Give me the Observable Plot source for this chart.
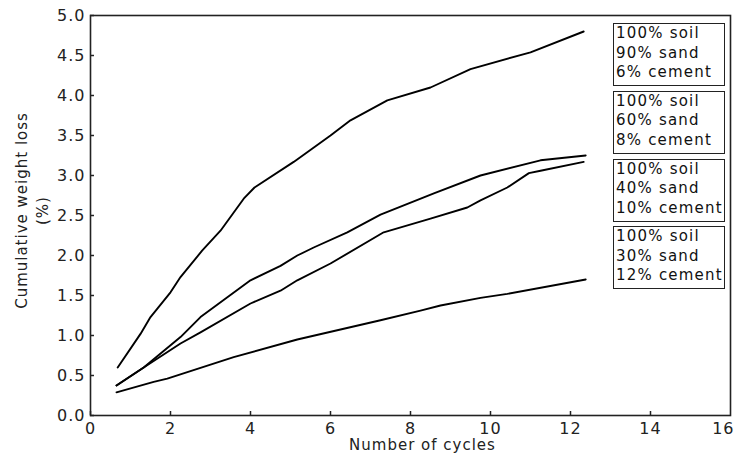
<!DOCTYPE html>
<html>
<head>
<meta charset="utf-8">
<script src="https://cdn.jsdelivr.net/npm/d3@7"></script>
<script src="https://cdn.jsdelivr.net/npm/@observablehq/plot@0.6"></script>
<style>
  html, body { margin: 0; padding: 0; background: white; }
  #wrap { position: relative; width: 735px; height: 455px; }
  .lg { position: absolute; left: 613px; width: 108px; height: 61px; border: 1.5px solid #222;
        font-family: "DejaVu Sans", sans-serif; font-size: 15px; line-height: 19.5px;
        letter-spacing: 1.2px; color: #111; padding: 0 0 0 2px; box-sizing: content-box; white-space: nowrap; overflow: visible; }
</style>
</head>
<body>
<div id="wrap"></div>
<script>
// Series labels (legend boxes, top to bottom)
const seriesNames = [
  "100% soil\n90% sand\n6% cement",
  "100% soil\n60% sand\n8% cement",
  "100% soil\n40% sand\n10% cement",
  "100% soil\n30% sand\n12% cement"
];

// 90% sand, 6% cement
const s1x = [0.68, 1.25, 1.5, 2.0, 2.25, 2.79, 3.25, 3.83, 4.1, 5.08, 6.0, 6.5, 7.42, 8.5, 9.5, 11.0, 12.33];
const s1y = [0.60, 1.02, 1.23, 1.54, 1.73, 2.06, 2.31, 2.71, 2.85, 3.17, 3.50, 3.69, 3.94, 4.10, 4.33, 4.54, 4.80];
// 60% sand, 8% cement
const s2x = [0.65, 1.33, 2.25, 2.75, 4.0, 4.75, 5.17, 5.58, 6.42, 7.25, 8.6, 9.75, 11.25, 12.38];
const s2y = [0.375, 0.60, 0.98, 1.23, 1.69, 1.87, 2.0, 2.10, 2.29, 2.51, 2.78, 3.0, 3.19, 3.25];
// 40% sand, 10% cement
const s3x = [0.65, 1.33, 2.25, 2.75, 4.0, 4.75, 5.17, 6.0, 7.33, 8.5, 9.42, 9.75, 10.42, 10.96, 11.25, 12.33];
const s3y = [0.375, 0.60, 0.90, 1.04, 1.40, 1.56, 1.69, 1.90, 2.29, 2.46, 2.60, 2.69, 2.85, 3.03, 3.06, 3.17];
// 30% sand, 12% cement
const s4x = [0.65, 1.58, 1.92, 3.58, 5.17, 7.25, 8.25, 8.75, 9.75, 10.42, 12.38];
const s4y = [0.29, 0.42, 0.46, 0.73, 0.95, 1.19, 1.31, 1.375, 1.47, 1.52, 1.70];

const xTicks = [0, 2, 4, 6, 8, 10, 12, 14, 16];
const yTicks = [0, 0.5, 1, 1.5, 2, 2.5, 3, 3.5, 4, 4.5, 5];
const xLabel = "Number of cycles";
const yLabel = "Cumulative weight loss\n(%)";

const seriesX = [s1x, s2x, s3x, s4x];
const seriesY = [s1y, s2y, s3y, s4y];
const data = seriesX.flatMap((xs, i) => xs.map((x, j) => ({series: i, x, y: seriesY[i][j]})));

const lastX = xTicks[xTicks.length - 1];
const innerXTicks = xTicks.slice(0, -1);

const chart = Plot.plot({
  width: 735,
  height: 455,
  marginLeft: 90,
  marginRight: 5,
  marginTop: 15,
  marginBottom: 40,
  style: {fontFamily: "DejaVu Sans, sans-serif", fontSize: "16px", color: "#222", background: "white", letterSpacing: "1px"},
  x: {domain: [0, 16]},
  y: {domain: [0, 5]},
  marks: [
    Plot.axisX({ticks: innerXTicks, tickSize: -4, tickPadding: 11, label: null, strokeWidth: 1.5, tickFormat: d3.format("d")}),
    Plot.axisX({ticks: [lastX], tickSize: 0, tickPadding: 7, label: null, tickFormat: d3.format("d"), textAnchor: "end", dx: 4, letterSpacing: "0px"}),
    Plot.axisY({ticks: yTicks, tickSize: -4, tickPadding: 9, label: null, strokeWidth: 1.5, tickFormat: d3.format(".1f")}),
    Plot.frame({stroke: "#222", strokeWidth: 1.6}),
    Plot.line(data, {x: "x", y: "y", z: "series", stroke: "#000", strokeWidth: 1.9}),
    Plot.text([xLabel], {frameAnchor: "bottom", lineAnchor: "middle", dx: 12, dy: 30, fontSize: 15, letterSpacing: "0.4px"}),
    Plot.text([yLabel], {frameAnchor: "left", textAnchor: "middle", rotate: -90, dx: -60, dy: -5, fontSize: 15, lineHeight: 1.4, letterSpacing: "0.4px"})
  ]
});

const wrap = document.getElementById("wrap");
wrap.appendChild(chart);
seriesNames.forEach((name, i) => {
  const d = document.createElement("div");
  d.className = "lg";
  d.style.top = (23 + 67.8 * i) + "px";
  d.innerHTML = name.split("\n").join("<br>");
  wrap.appendChild(d);
});
</script>
</body>
</html>
